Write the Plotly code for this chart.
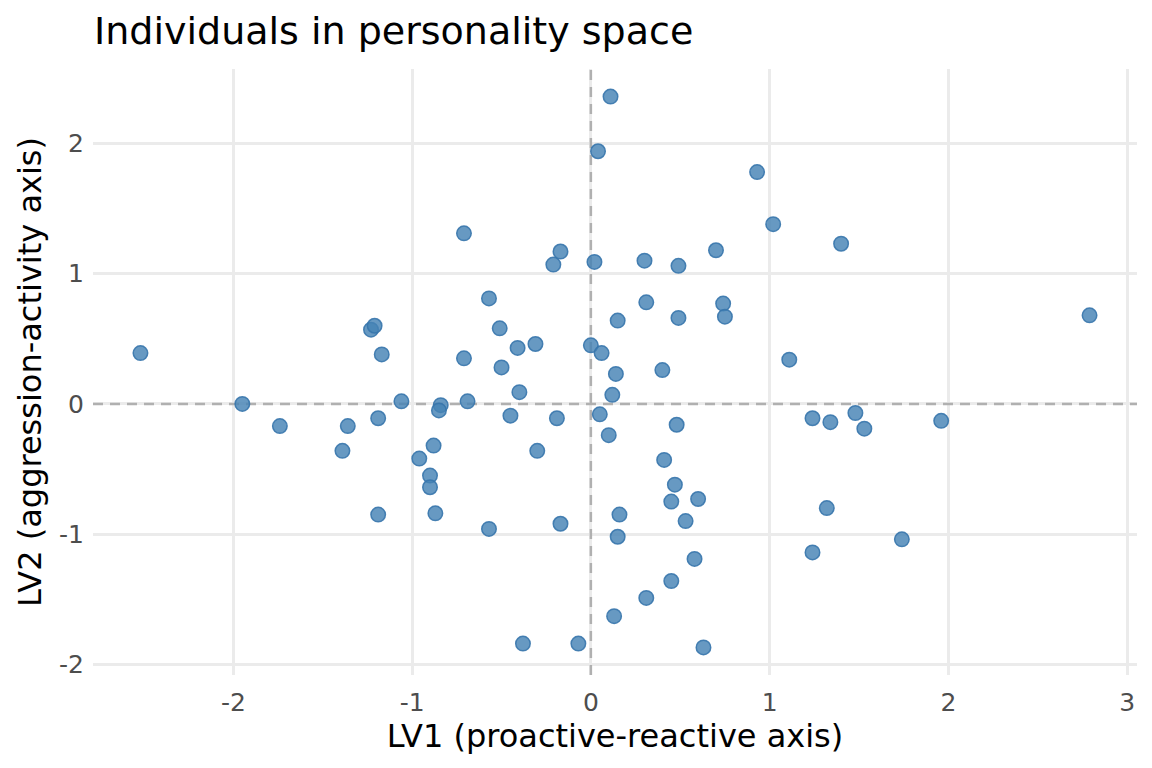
import plotly.graph_objects as go

# individual scores on the two latent variables
lv1 = [-2.52, -1.23, -1.21, -1.17, -0.71, -0.71, -0.21, -0.17, -0.57, -0.51,
       -0.50, -0.41, -0.31, -0.40,
       0.11, 0.04, 0.93, 1.02, 1.40, 0.02, 0.30, 0.49, 0.70, 0.31,
       0.74, 0.75, 0.15, 0.49, 2.79, 0.00, 0.06, 1.11, 0.14, 0.40, 0.12,
       -1.95, -1.74, -1.36, -1.39, -1.19, -1.06, -0.84, -0.85, -0.69, -0.88,
       -0.96, -0.90, -0.90, -0.87, -1.19, -0.57, -0.17, -0.45, -0.19, -0.30,
       -0.38, -0.07,
       0.05, 0.10, 0.48, 0.41, 0.47, 0.45, 0.60, 0.16, 0.53, 0.15,
       0.58, 0.45, 0.31, 0.13, 0.63, 1.24, 1.34, 1.48, 1.53, 1.96,
       1.32, 1.74, 1.24]
lv2 = [0.39, 0.57, 0.60, 0.38, 1.31, 0.35, 1.07, 1.17, 0.81, 0.58,
       0.28, 0.43, 0.46, 0.09,
       2.36, 1.94, 1.78, 1.38, 1.23, 1.09, 1.10, 1.06, 1.18, 0.78,
       0.77, 0.67, 0.64, 0.66, 0.68, 0.45, 0.39, 0.34, 0.23, 0.26, 0.07,
       0.00, -0.17, -0.17, -0.36, -0.11, 0.02, -0.01, -0.05, 0.02, -0.32,
       -0.42, -0.55, -0.64, -0.84, -0.85, -0.96, -0.92, -0.09, -0.11, -0.36,
       -1.84, -1.84,
       -0.08, -0.24, -0.16, -0.43, -0.62, -0.75, -0.73, -0.85, -0.90, -1.02,
       -1.19, -1.36, -1.49, -1.63, -1.87, -0.11, -0.14, -0.07, -0.19, -0.13,
       -0.80, -1.04, -1.14]

x_ticks = [-2, -1, 0, 1, 2, 3]
y_ticks = [-2, -1, 0, 1, 2]

# ggplot-style 5% expansion
def expand(v, f=0.05):
    lo, hi = min(v), max(v)
    pad = (hi - lo) * f
    return [lo - pad, hi + pad]

xr = expand(lv1)
yr = expand(lv2)

fig = go.Figure()
fig.add_trace(go.Scatter(
    x=lv1, y=lv2, mode="markers",
    marker=dict(size=14.5, color="rgba(70,130,180,0.82)",
                line=dict(color="rgba(55,118,172,0.9)", width=1.5)),
    showlegend=False, hoverinfo="x+y"))

ref = dict(color="#b0b0b0", width=2.5, dash="10px,7px")
fig.add_shape(type="line", xref="x", yref="y", x0=xr[0], x1=xr[1], y0=0, y1=0,
              line=ref, layer="between")
fig.add_shape(type="line", xref="x", yref="y", x0=0, x1=0, y0=yr[0], y1=yr[1],
              line=ref, layer="between")

# page body has an 8px margin, so the plot box is offset to compensate
fig.update_layout(
    width=1152, height=768,
    paper_bgcolor="white", plot_bgcolor="white",
    font=dict(family="DejaVu Sans", color="black"),
    margin=dict(l=85, r=23, t=61, b=101),
    title=dict(text="Individuals in personality space", x=86 / 1152, xanchor="left",
               xref="container", yref="container", y=1 - 23 / 768, yanchor="middle",
               font=dict(size=38, color="black")),
)
fig.update_xaxes(range=xr, tickvals=x_ticks, ticktext=[str(t) for t in x_ticks],
                 showgrid=True, gridcolor="#ebebeb", gridwidth=2.5, zeroline=False,
                 showline=False, ticks="", automargin=False, ticklabelstandoff=10,
                 tickfont=dict(size=25, color="#4d4d4d"),
                 title=dict(text="LV1 (proactive-reactive axis)",
                            font=dict(size=32, color="black"), standoff=4))
fig.update_yaxes(range=yr, tickvals=y_ticks, ticktext=[str(t) for t in y_ticks],
                 showgrid=True, gridcolor="#ebebeb", gridwidth=2.5, zeroline=False,
                 showline=False, ticks="", automargin=False, ticklabelstandoff=8,
                 tickfont=dict(size=25, color="#4d4d4d"),
                 title=dict(text="LV2 (aggression-activity axis)",
                            font=dict(size=32, color="black"), standoff=7))

fig.write_html("out.html")
